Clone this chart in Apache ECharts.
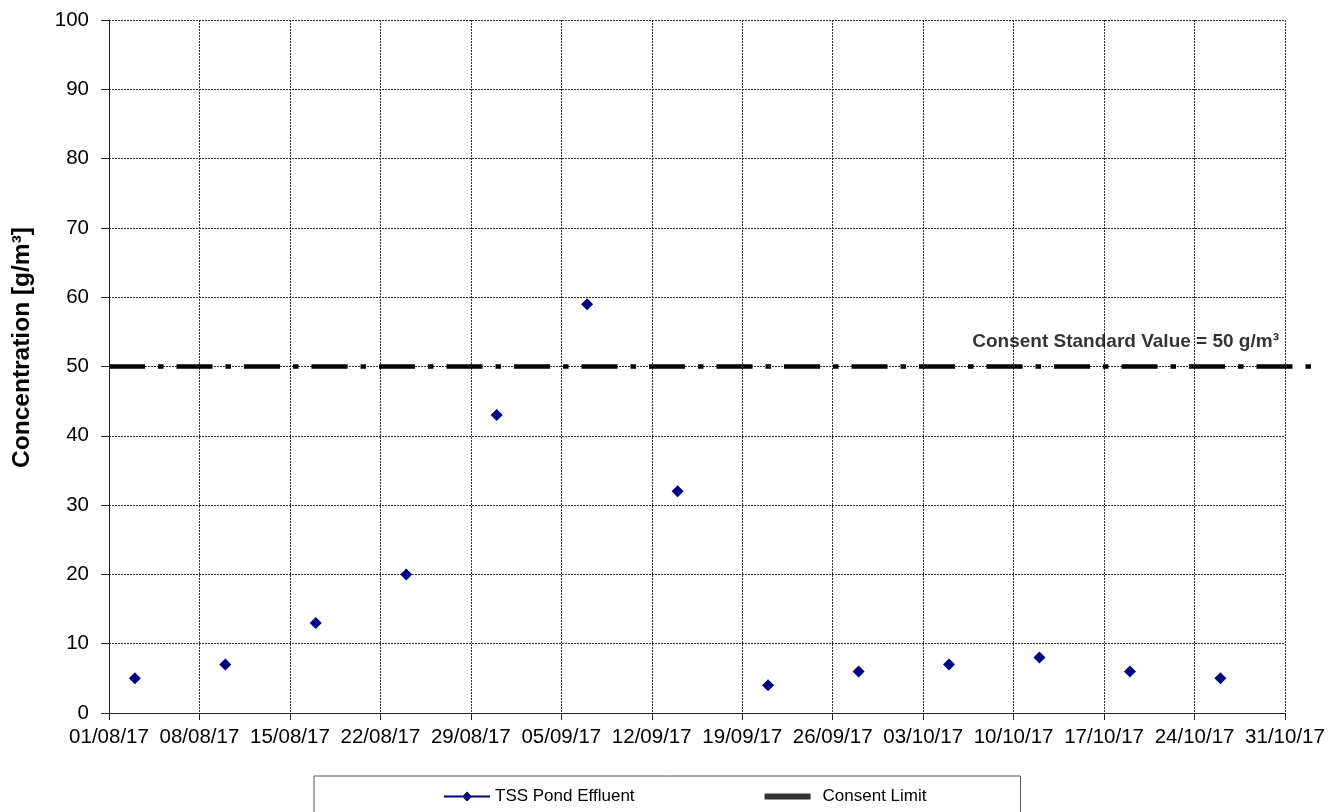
<!DOCTYPE html>
<html>
<head>
<meta charset="utf-8">
<script src="https://cdn.jsdelivr.net/npm/echarts@6/dist/echarts.min.js"></script>
<style>
html,body{margin:0;padding:0;background:#fff;}
#chart{width:1343px;height:812px;}
</style>
</head>
<body>
<div id="chart"></div>
<script>
// ---- data ----
const axisStartDate = '2017-08-01';
const axisEndDate = '2017-10-31';
const tickStepDays = 7;
const yTicks = { min: 0, max: 100, step: 10 };

const tssDates = ['2017-08-03','2017-08-10','2017-08-17','2017-08-24','2017-08-31','2017-09-07','2017-09-14','2017-09-21','2017-09-28','2017-10-05','2017-10-12','2017-10-19','2017-10-26'];
const tssValues = [5, 7, 13, 20, 43, 59, 32, 4, 6, 7, 8, 6, 5];

const consentDates = ['2017-08-01T00:00', '2017-11-02T12:00'];
const consentValues = [50, 50];

const annotationText = 'Consent Standard Value = 50 g/m³';
const annotationDate = '2017-10-18T16:00';
const annotationValue = 53.6;

const seriesNames = ['TSS Pond Effluent', 'Consent Limit'];
const yAxisName = 'Concentration [g/m³]';

// ---- helpers ----
const DAY = 86400000;
function toUTC(s) {
  const [d, t] = s.split('T');
  const [y, m, dd] = d.split('-').map(Number);
  let hh = 0, mm = 0;
  if (t) { [hh, mm] = t.split(':').map(Number); }
  return Date.UTC(y, m - 1, dd, hh, mm);
}
const t0 = toUTC(axisStartDate);
function dayOffset(s) { return (toUTC(s) - t0) / DAY; }
function pad(n) { return (n < 10 ? '0' : '') + n; }
function fmtDay(v) {
  const d = new Date(t0 + Math.round(v) * DAY);
  return pad(d.getUTCDate()) + '/' + pad(d.getUTCMonth() + 1) + '/' + pad(d.getUTCFullYear() % 100);
}

const tssData = tssDates.map((d, i) => [dayOffset(d), tssValues[i]]);
const consentData = consentDates.map((d, i) => [dayOffset(d), consentValues[i]]);
const annotationData = [[dayOffset(annotationDate), annotationValue]];

// main plot geometry: grid spans axisStart..axisEnd; the consent overlay grid is
// extended to the right so the same px/day scale reaches the consent line end.
const gridLeft = 109, gridRight = 58, gridTop = 20, gridBottom = 99, chartW = 1343;
const mainDays = dayOffset(axisEndDate);
const pxPerDay = (chartW - gridLeft - gridRight) / mainDays;
const consentSpan = dayOffset(consentDates[1]);
const overlayRight = chartW - gridLeft - consentSpan * pxPerDay;

const font = 'Liberation Sans, Arial';
const gridLine = { show: true, lineStyle: { color: '#333', width: 1, type: [2, 1] } };

const chart = echarts.init(document.getElementById('chart'));
chart.setOption({
  animation: false,
  backgroundColor: '#fff',
  grid: [
    { left: gridLeft, right: gridRight, top: gridTop, bottom: gridBottom, containLabel: false },
    { left: gridLeft, right: overlayRight, top: gridTop, bottom: gridBottom, containLabel: false }
  ],
  xAxis: [{
    type: 'value',
    gridIndex: 0,
    min: 0,
    max: mainDays,
    interval: tickStepDays,
    axisLine: { show: true, lineStyle: { color: '#222', width: 1 } },
    axisTick: { show: true, inside: false, length: 7, lineStyle: { color: '#222' } },
    axisLabel: { formatter: fmtDay, fontFamily: font, fontSize: 20.5, color: '#000', margin: 14, showMaxLabel: true, showMinLabel: true },
    splitLine: gridLine
  }, {
    type: 'value',
    gridIndex: 1,
    min: 0,
    max: consentSpan,
    show: false
  }],
  yAxis: [{
    type: 'value',
    gridIndex: 0,
    min: yTicks.min,
    max: yTicks.max,
    interval: yTicks.step,
    name: yAxisName,
    nameLocation: 'middle',
    nameGap: 74,
    nameTextStyle: { fontFamily: font, fontSize: 24.5, fontWeight: 'bold', color: '#000', padding: [0, 0, 0, 38] },
    axisLine: { show: true, lineStyle: { color: '#222', width: 1 } },
    axisTick: { show: true, inside: false, length: 8, lineStyle: { color: '#222' } },
    axisLabel: { fontFamily: font, fontSize: 20.5, color: '#000', margin: 20 },
    splitLine: gridLine
  }, {
    type: 'value',
    gridIndex: 1,
    min: yTicks.min,
    max: yTicks.max,
    show: false
  }],
  legend: {
    left: 314,
    top: 776,
    padding: [12, 94, 30, 130],
    borderColor: '#555',
    borderWidth: 1,
    itemWidth: 46,
    itemHeight: 10,
    itemGap: 130,
    textStyle: { fontFamily: font, fontSize: 17, color: '#000' },
    data: [
      { name: seriesNames[0], icon: 'path://M0,0M46,10M0,4L46,4L46,6L0,6Z M23,0L28,5L23,10L18,5Z' },
      { name: seriesNames[1], icon: 'path://M0,0M46,10M0,2L46,2L46,8L0,8Z', itemStyle: { color: '#000' }, textStyle: { padding: [0, 0, 0, 7] } }
    ]
  },
  series: [
    {
      name: seriesNames[1],
      type: 'scatter',
      data: [],
      itemStyle: { color: '#000' }
    },
    {
      name: seriesNames[1] + ' line',
      type: 'line',
      xAxisIndex: 1,
      yAxisIndex: 1,
      data: consentData,
      symbol: 'none',
      silent: true,
      lineStyle: { color: '#000', width: 4.5, type: [36, 13, 5.5, 13], cap: 'butt' },
      z: 3
    },
    {
      name: seriesNames[0],
      type: 'scatter',
      data: tssData,
      symbol: 'diamond',
      symbolSize: 12,
      itemStyle: { color: '#000080', opacity: 1 },
      z: 4
    },
    {
      name: 'annotation',
      type: 'scatter',
      data: annotationData,
      symbolSize: 0,
      silent: true,
      label: {
        show: true,
        position: 'inside',
        formatter: annotationText,
        fontFamily: font,
        fontSize: 19,
        fontWeight: 'bold',
        color: '#000'
      },
      z: 5
    }
  ]
});
</script>
</body>
</html>
